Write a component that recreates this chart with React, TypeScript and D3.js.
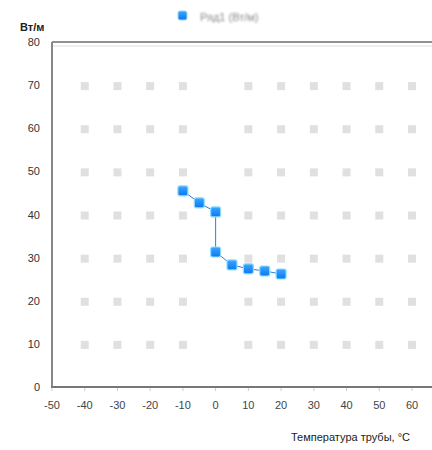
import React from "react";
import * as d3 from "d3";

const temps = [-10, -5, 0, 0, 5, 10, 15, 20];
const power = [45.5, 42.7, 40.6, 31.3, 28.3, 27.4, 26.9, 26.2];
const xTicks = [-50, -40, -30, -20, -10, 0, 10, 20, 30, 40, 50, 60];
const yTicks = [0, 10, 20, 30, 40, 50, 60, 70, 80];
const gridX = [-40, -30, -20, -10, 10, 20, 30, 40, 50, 60];
const gridY = [10, 20, 30, 40, 50, 60, 70];
const seriesName = "Ряд1 (Вт/м)";
const yTitle = "Вт/м";
const xTitle = "Температура трубы, °С";

const W = 432;
const H = 450;

export default function App() {
  const x = d3.scaleLinear().domain([-50, 60]).range([52, 412]);
  const y = d3.scaleLinear().domain([0, 80]).range([387, 42]);
  const line = d3
    .line<number>()
    .x((_, i) => x(temps[i]))
    .y((d) => y(d));
  const font = "'Liberation Sans', Arial, sans-serif";

  return (
    <svg
      width={W}
      height={H}
      style={{ position: "absolute", left: 0, top: 0, background: "#fff" }}
      fontFamily={font}
    >
      <defs>
        <filter id="soft" x="-10%" y="-30%" width="120%" height="160%">
          <feGaussianBlur stdDeviation="0.8" />
        </filter>
        <linearGradient id="mk" x1="0" y1="0" x2="0" y2="1">
          <stop offset="0" stopColor="#3aa8ff" />
          <stop offset="1" stopColor="#0a78f0" />
        </linearGradient>
      </defs>

      {/* legend */}
      <g>
        <rect x={178} y={11} width={9} height={9} rx={2} fill="url(#mk)" stroke="#8fdcff" strokeWidth={1} />
        <text x={200} y={21} fontSize={11} fill="#8a8a8a" filter="url(#soft)">
          {seriesName}
        </text>
      </g>

      {/* dotted grid */}
      {gridY.map((gy) =>
        gridX.map((gx) => (
          <rect
            key={`${gx}_${gy}`}
            x={x(gx) - 4}
            y={y(gy) - 3}
            width={8}
            height={8}
            fill="#e0e0e0"
          />
        ))
      )}

      {/* frame */}
      <line x1={52} x2={W} y1={42} y2={42} stroke="#222" strokeWidth={1} />
      <line x1={52} x2={W} y1={46} y2={46} stroke="#ddd" strokeWidth={1} />
      <line x1={52} x2={52} y1={42} y2={388} stroke="#888" strokeWidth={2} />
      <line x1={51} x2={W} y1={387} y2={387} stroke="#777" strokeWidth={2} />

      {/* x ticks */}
      {xTicks.map((t) => (
        <g key={t}>
          <line x1={x(t)} x2={x(t)} y1={388} y2={391} stroke="#ccc" strokeWidth={1} />
          <text x={x(t)} y={409} fontSize={11} fill="#444" textAnchor="middle">
            {t}
          </text>
        </g>
      ))}

      {/* y ticks */}
      {yTicks.map((t) => (
        <text key={t} x={40} y={y(t) + 4} fontSize={11} fill="#333" textAnchor="end">
          {t}
        </text>
      ))}

      <text x={20} y={31} fontSize={11} fontWeight="bold" fill="#222">
        {yTitle}
      </text>
      <text x={410} y={441} fontSize={11} fill="#222" textAnchor="end">
        {xTitle}
      </text>

      {/* series */}
      <path d={line(power) || ""} fill="none" stroke="#2b7fd6" strokeWidth={1} />
      {power.map((v, i) => (
        <rect
          key={i}
          x={x(temps[i]) - 5}
          y={y(v) - 5}
          width={10}
          height={10}
          rx={2}
          fill="url(#mk)"
          stroke="#8fdcff"
          strokeWidth={1.2}
        />
      ))}
    </svg>
  );
}
